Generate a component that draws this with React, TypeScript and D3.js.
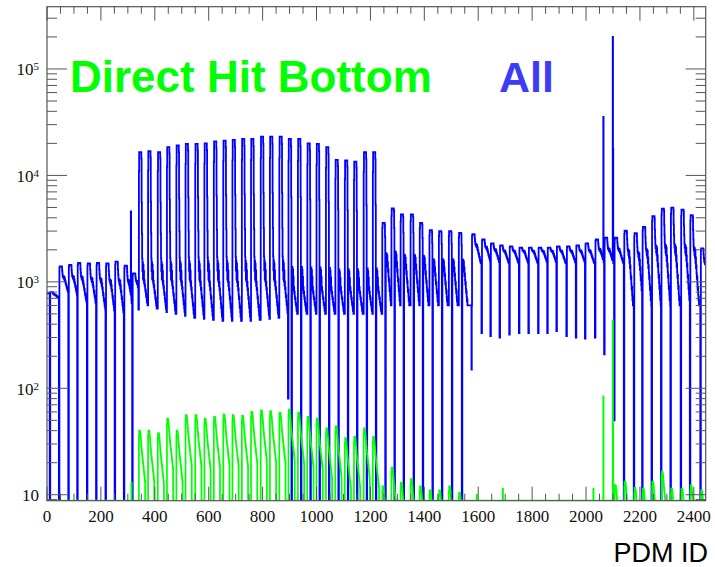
import * as d3 from "d3";
import { useMemo } from "react";

const W = 715;
const H = 567;
const frame = { left: 47, right: 705.7, top: 6.7, bottom: 500.7 };

const X_MAX = 2444;
const Y_MIN = Math.pow(10, 0.944);
const Y_MAX = Math.pow(10, 5.585);

const xTickValues = [0, 200, 400, 600, 800, 1000, 1200, 1400, 1600, 1800, 2000, 2200, 2400];
const yDecades = [1, 2, 3, 4, 5];

// start bin of every PDM ring group
const groupStart = [
  0, 12, 46, 81, 114, 150, 184, 219, 253, 287, 318,
  341, 375, 411, 445, 480, 514, 550, 584, 619, 654, 688, 723, 757, 793, 827, 862,
  896, 931, 966, 1000, 1035, 1070, 1105, 1139, 1175, 1209,
  1244, 1278, 1312, 1349, 1383, 1419, 1454, 1491, 1528,
  1577, 1614, 1647, 1681, 1717, 1753, 1788, 1824, 1858, 1892, 1929, 1964, 1998, 2035, 2069, 2106,
  2142, 2179, 2210, 2245, 2280, 2315, 2353, 2387, 2426,
];

// "All" histogram: per group peak / plateau / low level and dip value
const bluePeak = [
  780, 800, 1400, 1440, 1510, 1490, 1510, 1490, 1550, 1420, 1200,
  16500, 16900, 16500, 18400, 19100, 19800, 19800, 20000, 20900, 21200, 21600, 22000, 22000, 23100, 23100, 23100,
  22000, 22000, 20000, 19800, 18400, 14000, 13800, 13500, 16500, 16500,
  3580, 4890, 4300, 4300, 3580, 3060, 3000, 3000, 2890,
  2800, 2500, 2300, 2200, 2150, 2100, 2100, 2100, 2100, 2150, 2150, 2200, 2300, 2500, 2600, 2600,
  3020, 2870, 3290, 4140, 4880, 4990, 4780, 4230, 2060,
];
const blueMid = [
  760, 760, 1100, 1100, 1080, 1050, 1030, 1000, 1000, 1000, 1000,
  1100, 1100, 1100, 1100, 1100, 1100, 1100, 1100, 1100, 1100, 1100, 1100, 1100, 1100, 1100, 1100,
  950, 950, 950, 950, 950, 950, 950, 950, 950, 950,
  1700, 1700, 1600, 1600, 1600, 1500, 1500, 1500, 1500,
  2200, 2100, 2000, 1950, 1950, 1950, 1950, 1950, 1950, 1950, 1950, 1950, 1950, 2000, 2000, 2000,
  1900, 1800, 1900, 2000, 2000, 2000, 2000, 1900, 1500,
];
const blueLow = [
  720, 700, 800, 720, 650, 600, 550, 500, 480, 520, 550,
  600, 560, 520, 500, 480, 460, 450, 440, 430, 430, 430, 430, 440, 450, 460, 470,
  500, 500, 500, 500, 500, 500, 500, 500, 500, 500,
  600, 600, 600, 600, 600, 600, 600, 600, 600,
  1500, 1500, 1500, 1500, 1500, 1500, 1500, 1500, 1500, 1500, 1500, 1500, 1500, 1500, 1500, 1500,
  600, 600, 600, 600, 600, 600, 600, 600, 1100,
];
const blueDip = [
  0, 0, 0, 0, 0, 0, 0, 0, 0, 0, 550,
  600, 560, 520, 500, 480, 460, 450, 440, 430, 430, 430, 430, 440, 450, 460, 80,
  0, 0, 0, 0, 0, 0, 0, 0, 0, 0,
  0, 0, 0, 0, 0, 0, 0, 0, 0,
  330, 310, 300, 320, 330, 330, 330, 330, 345, 310, 300, 293, 300, 208, 50, 0,
  0, 0, 0, 0, 0, 0, 0, 0, 1100,
];
// 1 = empty bins right after the hump, 0 = at the end of the group
const blueDipAfterHump = [
  0, 0, 0, 0, 0, 0, 0, 0, 0, 0, 0,
  0, 0, 0, 0, 0, 0, 0, 0, 0, 0, 0, 0, 0, 0, 0, 0,
  1, 1, 1, 1, 1, 1, 1, 1, 1, 1,
  1, 1, 1, 1, 1, 1, 1, 1, 1,
  0, 0, 0, 0, 0, 0, 0, 0, 0, 0, 0, 0, 0, 0, 0, 0,
  0, 0, 0, 0, 0, 0, 0, 0, 0,
];
// shape inside a group: 1 = peak, 0 = plateau, -1 = low
const blueShape = [
  0.85, 1, 1, 1, 1, 1, 1, 1, 1, 0.95, 0.6, 0.35, 0.15, 0.05, 0.12, -0.05, 0.1, -0.1,
  0.05, -0.2, -0.1, -0.3, -0.25, -0.4, -0.5, -0.45, -0.6, -0.7, -0.65, -0.8, -0.9, -0.85, -1,
];
const blueSpikes = [
  [311, 4600], [1575, 150], [2064, 35500], [2099, 200000], [2100, 17800],
];

// "Direct Hit Bottom" histogram
const greenPeak = [
  0, 0, 0, 0, 0, 0, 0, 0, 0, 0, 0,
  40, 40, 38, 52, 40, 56, 56, 52, 54, 57, 56, 55, 60, 62, 61, 59,
  63, 59, 54, 52, 42, 44, 34, 35, 42, 35,
  12, 18, 13, 14, 12, 11, 11, 12, 10.5,
  0, 0, 0, 0, 0, 0, 0, 0, 0, 0, 0, 0, 0, 0, 0, 12.3,
  13.3, 11.6, 11.4, 13.3, 16.5, 11.4, 11.4, 12.3, 11,
];
const greenShape = [
  0.9, 1, 1, 1, 0.97, 0.93, 0.88, 0.82, 0.76, 0.7, 0.66, 0.62, 0.58, 0.55, 0.52,
  0.5, 0.47, 0.45, 0.42, 0.4, 0.38, 0.36, 0.34, 0,
];
const greenSpikes = [
  [313, 13], [1594, 10], [1691, 11.4], [2027, 11.4], [2064, 84], [2099, 435], [2100, 48],
];

function buildBlue() {
  const v = new Array(X_MAX).fill(0);
  groupStart.forEach((s, k) => {
    const last = k === groupStart.length - 1;
    const e = last ? X_MAX : groupStart[k + 1];
    const lp = Math.log(bluePeak[k]);
    const lm = Math.log(blueMid[k]);
    const ll = Math.log(blueLow[k]);
    for (let b = s; b < e; b++) {
      const p = b - s;
      const t = blueShape[Math.min(p, blueShape.length - 1)];
      let val = t >= 0 ? Math.exp(lm + t * (lp - lm)) : Math.exp(lm - t * (ll - lm));
      const dip = blueDipAfterHump[k] ? p === 11 || p === 12 : !last && b >= e - 2;
      if (dip) val = blueDip[k];
      v[b] = val;
    }
  });
  blueSpikes.forEach(([b, val]) => (v[b] = val));
  return v;
}

function buildGreen() {
  const v = new Array(X_MAX).fill(0);
  groupStart.forEach((s, k) => {
    const e = k === groupStart.length - 1 ? X_MAX : groupStart[k + 1];
    for (let b = s; b < e; b++) {
      const p = b - s;
      const f = p < greenShape.length ? greenShape[p] : 0;
      v[b] = greenPeak[k] * f;
    }
  });
  greenSpikes.forEach(([b, val]) => (v[b] = val));
  return v;
}

export default function App() {
  const x = d3.scaleLinear().domain([0, X_MAX]).range([frame.left, frame.right]);
  const y = d3.scaleLog().domain([Y_MIN, Y_MAX]).range([frame.bottom, frame.top]);
  const yv = (v: number) => (v <= Y_MIN ? frame.bottom : y(v));

  const stepPath = (vals: number[]) => {
    let d = `M${x(0)},${yv(vals[0])}`;
    for (let i = 0; i < vals.length; i++) {
      d += `H${x(i + 1)}`;
      if (i + 1 < vals.length) d += `V${yv(vals[i + 1])}`;
    }
    return d;
  };

  const bluePath = useMemo(() => stepPath(buildBlue()), []);
  const greenPath = useMemo(() => stepPath(buildGreen()), []);

  const xMinor = d3.range(0, X_MAX + 1, 50);
  const yMinor: number[] = [];
  for (let dec = 0; dec <= 5; dec++) {
    for (let m = 2; m <= 9; m++) {
      const v = m * Math.pow(10, dec);
      if (v > Y_MIN && v < Y_MAX) yMinor.push(v);
    }
  }
  const axisColor = "#555";
  const serif = "'Liberation Serif', 'Times New Roman', serif";
  const sans = "'Liberation Sans', Arial, Helvetica, sans-serif";

  return (
    <svg width={W} height={H} style={{ position: "absolute", left: 0, top: 0, background: "#fff" }}>
      <defs>
        <clipPath id="frameClip">
          <rect x={frame.left} y={frame.top} width={frame.right - frame.left} height={frame.bottom - frame.top} />
        </clipPath>
      </defs>
      <rect x={0} y={0} width={W} height={H} fill="#fff" />

      <g clipPath="url(#frameClip)">
        <path d={bluePath} fill="none" stroke="#0000ff" strokeWidth={1.8} />
        <path d={greenPath} fill="none" stroke="#00ff00" strokeWidth={1.7} />
      </g>

      {/* frame */}
      <rect
        x={frame.left}
        y={frame.top}
        width={frame.right - frame.left}
        height={frame.bottom - frame.top}
        fill="none"
        stroke={axisColor}
        strokeWidth={1.2}
      />

      {/* x ticks, bottom and top */}
      {xMinor.map((t) => {
        const len = t % 200 === 0 ? 14 : 7;
        return (
          <g key={"xt" + t} stroke={axisColor} strokeWidth={1}>
            <line x1={x(t)} x2={x(t)} y1={frame.bottom} y2={frame.bottom - len} />
            <line x1={x(t)} x2={x(t)} y1={frame.top} y2={frame.top + len} />
          </g>
        );
      })}
      {xTickValues.map((t) => (
        <text key={"xl" + t} x={x(t)} y={521.7} textAnchor="middle" fontFamily={serif} fontSize={17} fill="#111">
          {t}
        </text>
      ))}

      {/* y ticks, left and right */}
      {yDecades.map((dec) => {
        const v = Math.pow(10, dec);
        return (
          <g key={"yt" + dec} stroke={axisColor} strokeWidth={1}>
            <line x1={frame.left} x2={frame.left + 20} y1={y(v)} y2={y(v)} />
            <line x1={frame.right} x2={frame.right - 20} y1={y(v)} y2={y(v)} />
          </g>
        );
      })}
      {yMinor.map((v) => (
        <g key={"ym" + v} stroke={axisColor} strokeWidth={1}>
          <line x1={frame.left} x2={frame.left + 10} y1={y(v)} y2={y(v)} />
          <line x1={frame.right} x2={frame.right - 10} y1={y(v)} y2={y(v)} />
        </g>
      ))}
      {yDecades.map((dec) => (
        <text key={"yl" + dec} x={39} y={y(Math.pow(10, dec)) + 6.5} textAnchor="end" fontFamily={serif} fontSize={17} fill="#111">
          {dec === 1 ? (
            "10"
          ) : (
            <>
              10
              <tspan fontSize={11} dy={-5}>
                {dec}
              </tspan>
            </>
          )}
        </text>
      ))}

      <text x={708} y={562} textAnchor="end" fontFamily={sans} fontSize={27} fill="#000">
        PDM ID
      </text>
      <text x={70} y={92} fontFamily={sans} fontWeight="bold" fontSize={44} fill="#00ff00">
        Direct Hit Bottom
      </text>
      <text x={499} y={92} fontFamily={sans} fontWeight="bold" fontSize={43} fill="#3c3cf5">
        All
      </text>
    </svg>
  );
}
